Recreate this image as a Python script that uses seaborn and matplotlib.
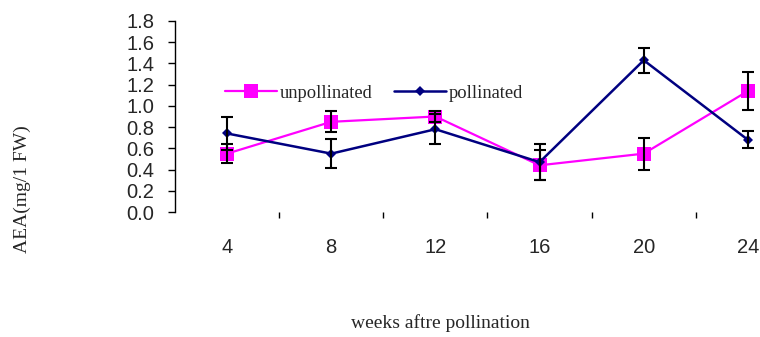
import matplotlib
matplotlib.use("Agg")
import matplotlib.pyplot as plt
import seaborn as sns
import numpy as np
import pandas as pd

weeks = ["4", "8", "12", "16", "20", "24"]
unpollinated = [0.55, 0.85, 0.90, 0.44, 0.55, 1.14]
unpollinated_err = [0.09, 0.10, 0.05, 0.14, 0.15, 0.18]
pollinated = [0.74, 0.55, 0.78, 0.47, 1.43, 0.68]
pollinated_err = [0.16, 0.14, 0.14, 0.17, 0.12, 0.08]
yticks = [0.0, 0.2, 0.4, 0.6, 0.8, 1.0, 1.2, 1.4, 1.6, 1.8]

sns.set_theme(style="white")
plt.rcParams["font.family"] = ["Liberation Sans", "DejaVu Sans"]

pos = np.arange(len(weeks))
df_u = pd.DataFrame({"pos": pos, "value": unpollinated, "err": unpollinated_err})
df_p = pd.DataFrame({"pos": pos, "value": pollinated, "err": pollinated_err})

fig = plt.figure(figsize=(7.6, 3.37), dpi=100)
ax = fig.add_axes([175 / 760, 1 - 212 / 337, 625 / 760, 191 / 337])

sns.lineplot(data=df_u, x="pos", y="value", ax=ax, color="#FF00FF", lw=1.6,
             marker="s", markersize=9.5, markeredgewidth=0, label="unpollinated",
             zorder=3)
sns.lineplot(data=df_p, x="pos", y="value", ax=ax, color="#000080", lw=1.8,
             marker="D", markersize=6.5, markeredgewidth=0, label="pollinated",
             zorder=4)
for d in (df_u, df_p):
    ax.errorbar(d["pos"], d["value"], yerr=d["err"], fmt="none", ecolor="black",
                elinewidth=1.5, capsize=4.5, capthick=1.5, zorder=5)

ax.set_xlim(-0.5, len(weeks) - 0.5)
ax.set_ylim(0, 1.8)
ax.set_yticks(yticks)
ax.set_yticklabels([f"{v:.1f}" for v in yticks], fontsize=14.5)
ax.set_xticks(pos)
ax.set_xticklabels(weeks, fontsize=14.5)
ax.set_xticks(pos[:-1] + 0.5, minor=True)
ax.tick_params(axis="x", which="major", length=0, pad=19)
ax.tick_params(axis="x", which="minor", length=4, width=1, color="black",
               direction="out", bottom=True)
ax.tick_params(axis="y", length=5, width=1, color="black", direction="out",
               left=True, pad=10)

for s in ["top", "right", "bottom"]:
    ax.spines[s].set_visible(False)
ax.spines["left"].set_color("black")
ax.spines["left"].set_linewidth(1)

ax.set_xlabel("")
ax.set_ylabel("")
fig.text(440 / 760, 1 - 323 / 337, "weeks aftre pollination", ha="center",
         va="center", fontsize=14, family="Liberation Serif")
fig.text(22 / 760, 1 - 189 / 337, "AEA(mg/1 FW)", ha="center", va="center",
         rotation=90, fontsize=14, family="Liberation Serif")

handles, labels = ax.get_legend_handles_labels()
handles[1].set_markersize(5.5)
ax.legend(handles, labels, ncol=2, frameon=False, loc="center left",
          bbox_to_anchor=(0.08, 0.623), borderpad=0, borderaxespad=0,
          handlelength=2.8, handletextpad=0.15, columnspacing=1.2,
          prop={"family": "Liberation Serif", "size": 13.3})

fig.savefig("out.png", dpi=100)
